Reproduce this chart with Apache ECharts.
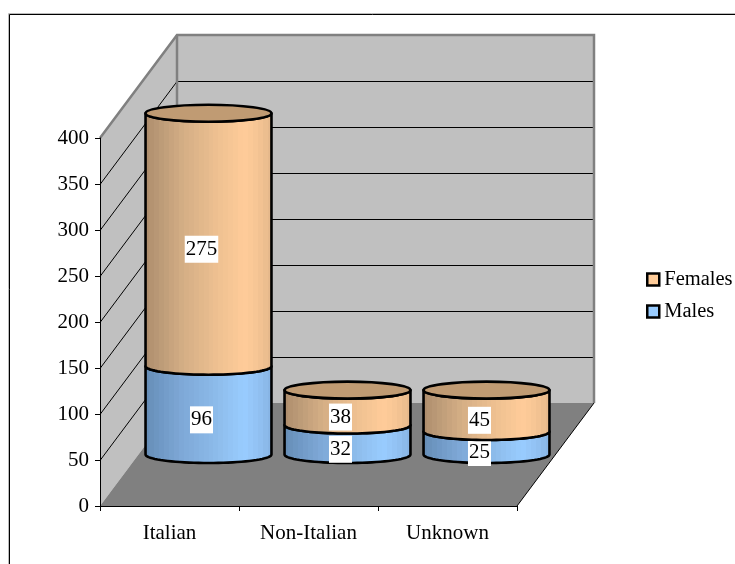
<!DOCTYPE html>
<html><head><meta charset="utf-8">
<style>html,body{margin:0;padding:0;background:#fff}#c{width:735px;height:564px}</style>
<script src="https://cdn.jsdelivr.net/npm/echarts@6/dist/echarts.min.js"></script>
</head><body><div id="c"></div>
<script>
var categories = ['Italian', 'Non-Italian', 'Unknown'];
var males = [96, 32, 25];
var females = [275, 38, 45];
var valueTicks = [50, 100, 150, 200, 250, 300, 350, 400];
var FONT = '"Liberation Serif","Times New Roman",serif';
var DX = 77, DY = -103;            // depth of the 3D box
var CX_SHIFT = 39;                 // cylinders stand mid-depth
var RY = 8.5, RX_FRAC = 0.453;     // cylinder ellipse
var ORANGE = [[0,[173,140,107]],[0.12,[187,154,119]],[0.3,[212,174,133]],[0.55,[236,191,144]],[0.78,[255,204,153]],[0.88,[246,197,148]],[1,[227,183,138]]];
var BLUE = [[0,[102,140,180]],[0.12,[111,152,196]],[0.3,[127,169,216]],[0.55,[140,186,233]],[0.78,[153,204,255]],[0.88,[146,194,243]],[1,[134,179,226]]];
var TOP_FILL = '#c09b73';
var STRIPS = 26;

function colorAt(stops, t){
  for (var i = 1; i < stops.length; i++){
    if (t <= stops[i][0]){
      var a = stops[i-1], b = stops[i], f = (t - a[0]) / (b[0] - a[0]);
      return 'rgb(' + [0,1,2].map(function(k){return Math.round(a[1][k] + (b[1][k] - a[1][k]) * f);}).join(',') + ')';
    }
  }
  return 'rgb(' + stops[stops.length-1][1].join(',') + ')';
}
function grad(stops){
  var cs = [];
  for (var k = 0; k < STRIPS; k++){
    var c = colorAt(stops, (k + 0.5) / STRIPS);
    cs.push({offset:k / STRIPS, color:c}, {offset:(k + 1) / STRIPS, color:c});
  }
  return {type:'linear',x:0,y:0,x2:1,y2:0,colorStops:cs};
}
function arc(cx, cy, rx, ry, from, to, n){
  var pts = [];
  for (var i = 0; i <= n; i++){
    var a = from + (to - from) * i / n;
    pts.push([cx + rx * Math.cos(a), cy + ry * Math.sin(a)]);
  }
  return pts;
}
function cylinder(stops, baseOf, withTop){
  return function(params, api){
    var i = api.value(0), base = baseOf[i], val = api.value(1);
    var p0 = api.coord([i, base]), p1 = api.coord([i, base + val]);
    var cx = p0[0] + CX_SHIFT, y0 = p0[1] + DY / 2, y1 = p1[1] + DY / 2;
    var rx = api.size([1, 0])[0] * RX_FRAC;
    var ch = [];
    var lower = arc(cx, y0, rx, RY, 0, Math.PI, 40);
    var upper = arc(cx, y1, rx, RY, Math.PI, 0, 40);
    ch.push({type:'polygon', shape:{points: lower.concat(upper)},
      style:{fill: grad(stops), stroke:'#000', lineWidth:2.6, lineJoin:'round'}});
    if (withTop) {
      ch.push({type:'ellipse', shape:{cx:cx, cy:y1, rx:rx, ry:RY},
        style:{fill:TOP_FILL, stroke:'#000', lineWidth:2.6}});
    }
    var m = api.coord([i, base + val / 2]);
    ch.push({type:'text', x: cx - 7, y: m[1] + DY / 2 + 9.5, z2: 50,
      style:{text:String(val), font:'21px ' + FONT, fill:'#000', align:'center', verticalAlign:'middle',
        backgroundColor:'#fff', padding:[3,1,3,1]}});
    return {type:'group', children: ch};
  };
}
function walls(params, api){
  var r = params.coordSys;
  var L = r.x, R = r.x + r.width, T = r.y, B = r.y + r.height;
  var ch = [];
  ch.push({type:'polygon', shape:{points:[[L+DX,T+DY],[R+DX,T+DY],[R+DX,B+DY],[L+DX,B+DY]]}, style:{fill:'#c0c0c0'}});
  ch.push({type:'polygon', shape:{points:[[L,T],[L+DX,T+DY],[L+DX,B+DY],[L,B]]}, style:{fill:'#c0c0c0'}});
  ch.push({type:'polygon', shape:{points:[[L,B],[R,B],[R+DX,B+DY],[L+DX,B+DY]]}, style:{fill:'#808080'}});
  valueTicks.forEach(function(v){
    if (v === 400) return;
    var y = Math.round(api.coord([0, v])[1]) + 0.5;
    ch.push({type:'polyline', shape:{points:[[L,y],[L+DX,y+DY],[R+DX,y+DY]]}, style:{fill:null, stroke:'#000', lineWidth:1}});
  });
  ch.push({type:'polyline', shape:{points:[[L,T],[L+DX,T+DY],[R+DX,T+DY],[R+DX,B+DY]]}, style:{fill:null, stroke:'#808080', lineWidth:2.5}});
  ch.push({type:'line', shape:{x1:L+DX,y1:T+DY,x2:L+DX,y2:B+DY}, style:{stroke:'#808080', lineWidth:2.5}});
  ch.push({type:'line', shape:{x1:R,y1:B,x2:R+DX,y2:B+DY}, style:{stroke:'#000', lineWidth:1}});
  return {type:'group', children: ch};
}
var zeroBase = categories.map(function(){return 0;});
var chart = echarts.init(document.getElementById('c'), null, {renderer:'canvas'});
chart.setOption({
  animation:false,
  backgroundColor:'#fff',
  grid:{left:100, top:138, width:417, height:368},
  graphic:[
    {type:'polyline', z:0, shape:{points:[[8.5,564],[8.5,13.5],[735,13.5]]}, style:{fill:null, stroke:'#bbb', lineWidth:1}},
    {type:'polyline', z:0, shape:{points:[[9.5,564],[9.5,14.5],[735,14.5]]}, style:{fill:null, stroke:'#000', lineWidth:1}}
  ],
  legend:{
    data:['Females','Males'], orient:'vertical', left:641, top:264, itemWidth:12, itemHeight:12, itemGap:11, icon:'rect',
    itemStyle:{borderColor:'#000', borderWidth:2.5},
    textStyle:{fontFamily:FONT, fontSize:20.5, color:'#000', padding:[0,0,0,0]}
  },
  xAxis:{type:'category', data:categories, z:10,
    axisLine:{lineStyle:{color:'#000',width:1}}, axisTick:{show:true,length:5,alignWithLabel:false,lineStyle:{color:'#000'}},
    axisLabel:{fontFamily:FONT,fontSize:21,color:'#000',margin:17,interval:0}, splitLine:{show:false}},
  yAxis:{type:'value', min:0, max:400, interval:50, z:10,
    axisLine:{show:true,lineStyle:{color:'#000',width:1}}, axisTick:{show:true,length:5,lineStyle:{color:'#000'}},
    axisLabel:{fontFamily:FONT,fontSize:21,color:'#000',margin:11}, splitLine:{show:false}},
  series:[
    {type:'custom', name:'walls', z:1, silent:true, renderItem:walls, data:[[0,0]], encode:{x:0,y:1}, clip:false},
    {type:'custom', name:'Males', z:2, renderItem:cylinder(BLUE, zeroBase, false),
      data:males.map(function(v,i){return [i,v];}), encode:{x:0,y:1},
      itemStyle:{color:'#99ccff'}, clip:false},
    {type:'custom', name:'Females', z:3, renderItem:cylinder(ORANGE, males, true),
      data:females.map(function(v,i){return [i,v];}), encode:{x:0,y:1},
      itemStyle:{color:'#ffcc99'}, clip:false}
  ]
});
</script></body></html>
